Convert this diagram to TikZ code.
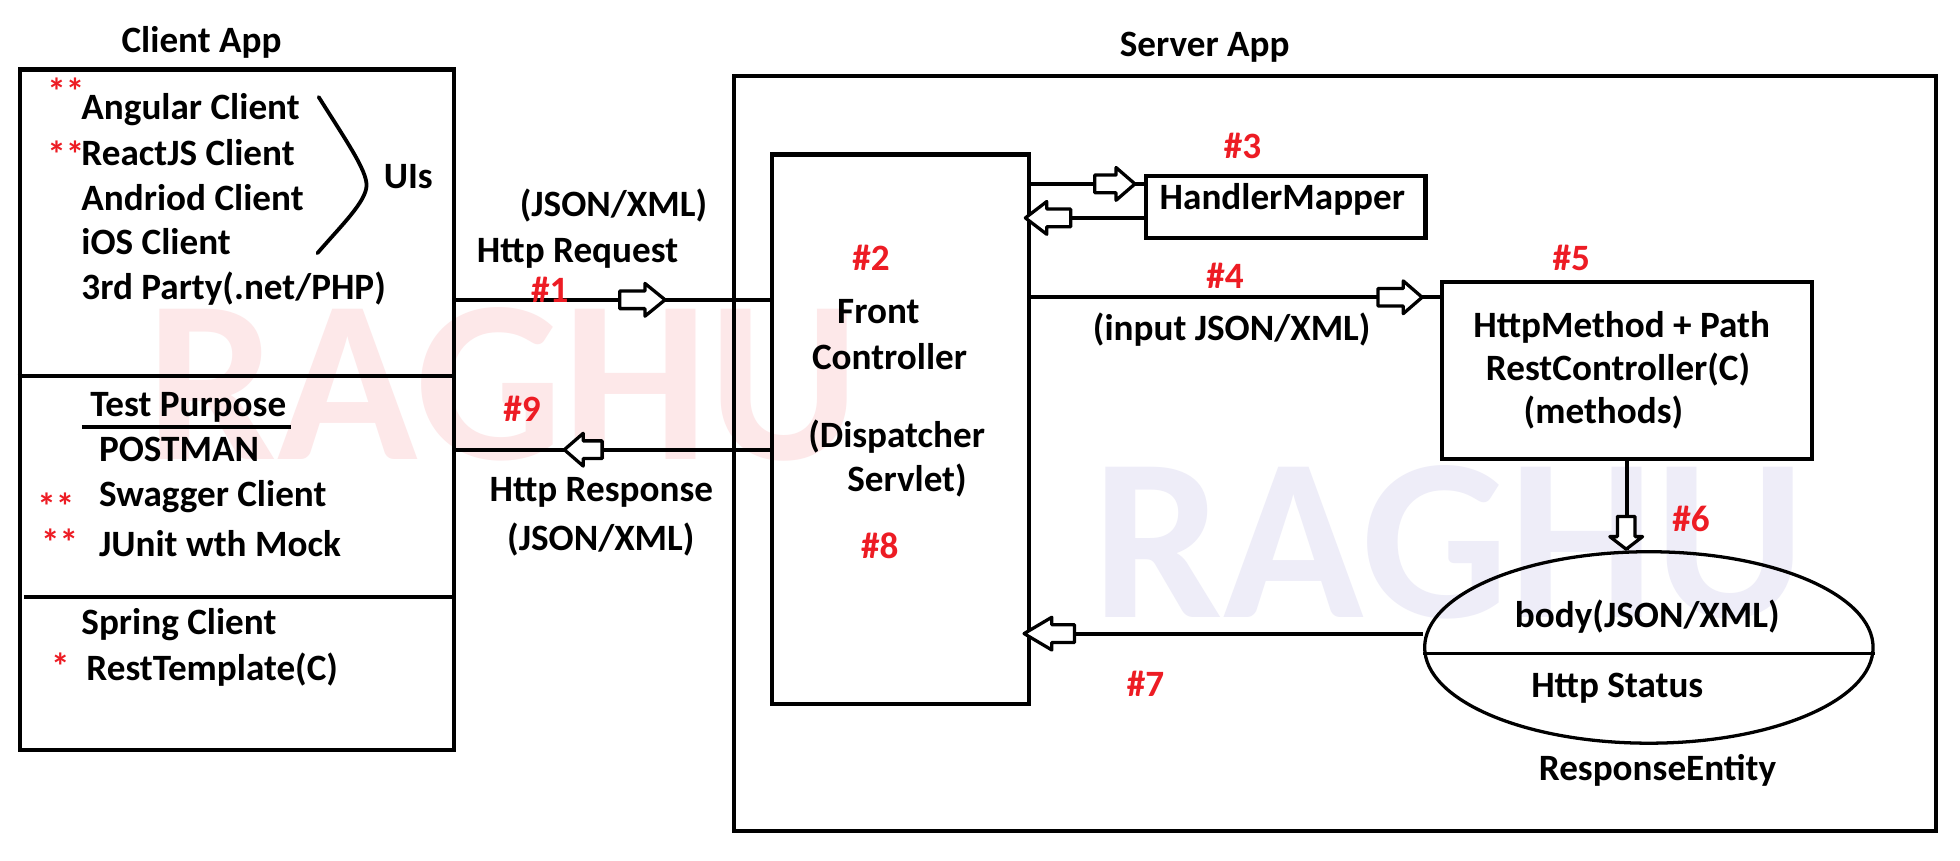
\documentclass[tikz,border=0pt]{standalone}
\usepackage{fontspec}
\setmainfont{Carlito}
\usetikzlibrary{shapes.geometric}
\definecolor{redlab}{HTML}{ED1C24}
\definecolor{wmpink}{HTML}{FDE8E9}
\definecolor{wmlav}{HTML}{EEEDF8}
\tikzset{
  pics/openarr/.style 2 args={code={
    \draw[line width=2.6pt, fill=white, line join=round]
      (-#1,-7) -- (-#2,-7) -- (-#2,-13) -- (0,0) -- (-#2,13) -- (-#2,7) -- (-#1,7) -- cycle;}},
  txt/.style={anchor=base west, inner sep=0pt},
  num/.style={anchor=base west, inner sep=0pt, text=redlab},
  star/.style={anchor=north west, inner sep=0pt, text=redlab},
  boxnode/.style={draw, rectangle, line width=3.3pt, inner sep=0pt, anchor=north west},
  wm/.style={anchor=base west, inner sep=0pt, font=\fontsize{184}{200}\selectfont\bfseries},
}
\begin{document}
\begin{tikzpicture}[x=1pt, y=-1pt, line width=3.3pt,
  every node/.append style={font=\fontsize{29.5}{35}\selectfont\bfseries}]
\fill[white] (0,0) rectangle (1556,683);
\useasboundingbox (0,0) rectangle (1556,683);

% watermarks
\node[wm, text=wmpink] (wm1) at (115,365) {RAGHU};
\node[wm, text=wmlav] (wm2) at (866,490) {RAGHU};

% row coordinates
\coordinate (r1) at (0,238);
\coordinate (r9) at (0,357);
\coordinate (r3a) at (0,146);
\coordinate (r3b) at (0,173);
\coordinate (r4) at (0,236);
\coordinate (r7) at (0,503);
\coordinate (d1) at (0,298.5);
\coordinate (d2) at (0,474);

% ---------- Client side ----------
\node[anchor=base] (ctitle) at (160,42) {Client App};
\node[boxnode, minimum width=345pt, minimum height=540pt] (client) at (14,53.5) {};
\draw (client.west |- d1) -- (client.east |- d1);
\draw ([xshift=5pt]client.west |- d2) -- (client.east |- d2);

\node[star] (s1) at (36,60) {**};
\node[txt] (t1) at (63,95) {Angular Client};
\node[star] (s2) at (36,110) {**};
\node[txt] (t2) at (63,131) {ReactJS Client};
\node[txt] (t3) at (63,167) {Andriod Client};
\node[txt] (t4) at (63,202) {iOS Client};
\node[txt] (t5) at (63,238) {3rd Party(.net/PHP)};
\draw[line width=3pt, line cap=round] (253,77) .. controls (275,112) and (291,135) .. (291,147)
  .. controls (291,160) and (270,180) .. (252,201);
\node[txt] (uis) at (303,150) {UIs};

\node[txt] (tp) at (70,331) {Test Purpose};
\draw[line width=3pt] (65,339) -- (231,339);
\node[txt] (t6) at (77,366) {POSTMAN};
\node[star] (s3) at (28,390) {**};
\node[txt] (t7) at (77,402) {Swagger Client};
\node[star] (s4) at (31,418) {**};
\node[txt] (t8) at (77,442) {JUnit wth Mock};
\node[txt] (t9) at (63,504) {Spring Client};
\node[star] (s5) at (39,517) {*};
\node[txt] (t10) at (67,540) {RestTemplate(C)};

% ---------- Server side ----------
\node[anchor=base west] (stitle) at (884,45) {Server App};
\node[boxnode, minimum width=954pt, minimum height=599pt] (server) at (581,59) {};
\node[boxnode, minimum width=204pt, minimum height=436pt] (fc) at (611,121) {};
\node[boxnode, minimum width=222pt, minimum height=49pt] (hm) at (908,138) {};
\node[boxnode, minimum width=294pt, minimum height=141pt] (rc) at (1143,222) {};
\node[draw, ellipse, line width=2.6pt, inner sep=0pt, minimum width=356pt, minimum height=152pt] (ent) at (1309,514) {};
\draw[line width=2.6pt] ([yshift=-5pt]ent.west) -- ([yshift=-5pt]ent.east);

% texts in server
\node[num] (n2) at (675,215) {\#2};
\node[txt] (f1) at (663,257) {Front};
\node[txt] (f2) at (643,293) {Controller};
\node[txt] (f3) at (640,355) {(Dispatcher};
\node[txt] (f4) at (671,390) {Servlet)};
\node[num] (n8) at (682,443) {\#8};
\node[num] (n3) at (970,126) {\#3};
\node[txt] (hmt) at (919,166) {HandlerMapper};
\node[num] (n4) at (956,229) {\#4};
\node[txt] (inp) at (866,270) {(input JSON/XML)};
\node[num] (n5) at (1231,215) {\#5};
\node[txt] (rc1) at (1168,268) {HttpMethod + Path};
\node[txt] (rc2) at (1178,302) {RestController(C)};
\node[txt] (rc3) at (1208,336) {(methods)};
\node[num] (n6) at (1326,422) {\#6};
\node[txt] (e1) at (1201,498) {body(JSON/XML)};
\node[txt] (e2) at (1214,554) {Http Status};
\node[txt] (e3) at (1220,620) {ResponseEntity};
\node[num] (n7) at (893,553) {\#7};

% ---------- connectors ----------
\draw (client.east |- r1) -- (fc.west |- r1);
\pic at (528,238) {openarr={36}{16}};
\draw (fc.west |- r9) -- (client.east |- r9);
\pic[rotate=180] at (448,357) {openarr={30}{15}};
\draw (fc.east |- r3a) -- (hm.west |- r3a);
\pic at (901,146) {openarr={32}{15}};
\draw (hm.west |- r3b) -- (fc.east |- r3b);
\pic[rotate=180] at (814,173) {openarr={36}{17}};
\draw (fc.east |- r4) -- (rc.west |- r4);
\pic at (1129,236) {openarr={35}{15}};
\draw (rc.south) -- (rc.south |- ent.north);
\pic[rotate=-90] at (1291,436) {openarr={26}{10}};
\draw ([yshift=11pt]ent.west) -- (fc.east |- r7);
\pic[rotate=180] at (813,503) {openarr={40}{22}};

% labels on connectors
\node[txt] (j1) at (411,172) {(JSON/XML)};
\node[txt] (hr) at (377,208) {Http Request};
\node[num] (n1) at (420,240) {\#1};
\node[num] (n9) at (398,335) {\#9};
\node[txt] (hs) at (387,398) {Http Response};
\node[txt] (j2) at (401,437) {(JSON/XML)};
\end{tikzpicture}
\end{document}
